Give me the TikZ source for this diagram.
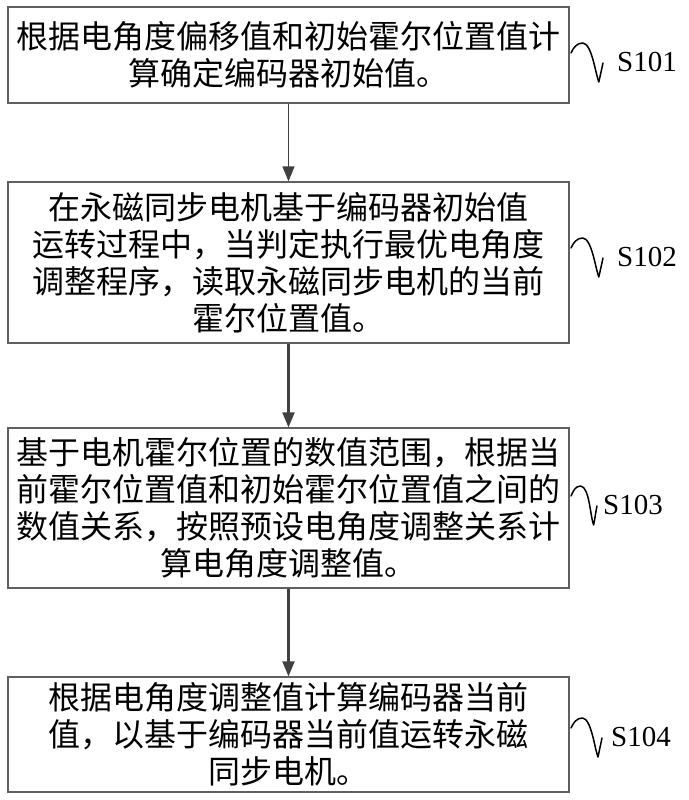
\documentclass[tikz,border=0pt]{standalone}
\usepackage{fontspec}
\setmainfont{Liberation Serif}
\newfontfamily\cjk{Noto Sans CJK SC}
\usetikzlibrary{arrows.meta}

\definecolor{boxgray}{RGB}{95,95,95}
\definecolor{arrgray}{RGB}{64,64,64}

\tikzset{
    procbox/.style={draw=boxgray, line width=1.3pt, minimum width=561pt,
        text width=550pt, align=center, inner sep=0pt,
        font=\cjk\fontsize{32}{37}\selectfont},
    flowarrow/.style={arrgray, line width=2.2pt,
        -{Triangle[width=12pt,length=15pt]}},
    steplabel/.style={anchor=west, inner sep=0pt, font=\fontsize{29}{29}\selectfont},
    wave/.style={black, line width=1.5pt, line cap=round, line join=round}
}

% squiggle in front of a step label: #2 = width, #3 = gap to the label
\newcommand{\labelwave}[3]{%
    \draw[wave] ([shift={(-#2-#3,9)}]#1.west) to[out=65,in=180] ++(0.37*#2,10)
        to[out=-5,in=112,looseness=0.55] ++(0.5*#2,-39) to[out=78,in=258] ++(0.13*#2,19);}

\begin{document}
\begin{tikzpicture}[x=1pt, y=1pt]
    \useasboundingbox (0,0) rectangle (688,-800);

    \node[procbox, minimum height=96pt] (s101box) at (288.5,-55)
        {根据电角度偏移值和初始霍尔位置值计\\算确定编码器初始值。};
    \node[procbox, minimum height=161pt] (s102box) at (288.5,-262.5)
        {在永磁同步电机基于编码器初始值\\运转过程中，当判定执行最优电角度\\调整程序，读取永磁同步电机的当前\\霍尔位置值。};
    \node[procbox, minimum height=160pt] (s103box) at (288.5,-508)
        {基于电机霍尔位置的数值范围，根据当\\前霍尔位置值和初始霍尔位置值之间的\\数值关系，按照预设电角度调整关系计\\算电角度调整值。};
    \node[procbox, minimum height=115pt] (s104box) at (288.5,-734.5)
        {根据电角度调整值计算编码器当前\\值，以基于编码器当前值运转永磁\\同步电机。};

    \draw[flowarrow, line width=1.3pt] (s101box) -- (s102box);
    \draw[flowarrow] (s102box) -- (s103box);
    \draw[flowarrow] (s103box) -- (s104box);

    \node[steplabel] (s101) at (617,-62) {S101};
    \node[steplabel] (s102) at (617,-257) {S102};
    \node[steplabel] (s103) at (603,-505) {S103};
    \node[steplabel] (s104) at (611,-737) {S104};

    \labelwave{s101}{32}{14}
    \labelwave{s102}{32}{14}
    \labelwave{s103}{26}{6}
    \labelwave{s104}{31}{9}
\end{tikzpicture}
\end{document}
